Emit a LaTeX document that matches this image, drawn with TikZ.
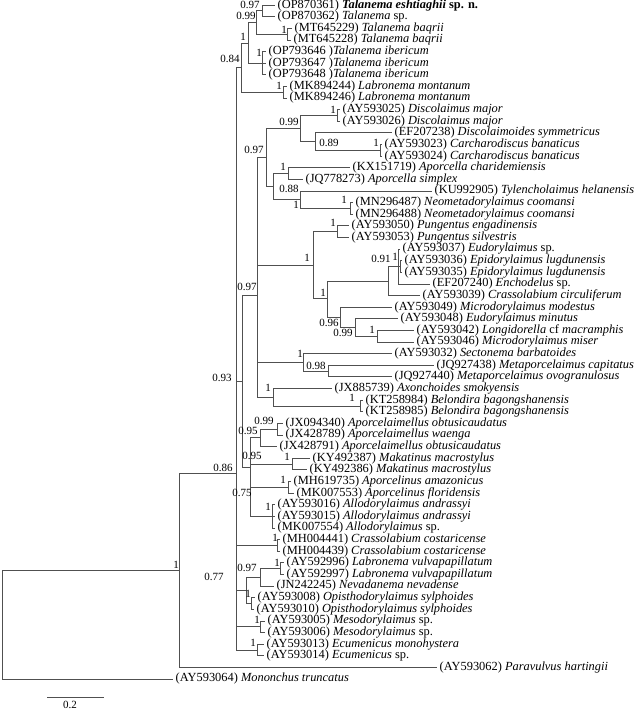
\documentclass[tikz,border=0pt]{standalone}
\usepackage{fontspec}
\setmainfont{Liberation Serif}
\definecolor{treegray}{RGB}{80,80,80}
\tikzset{
  branch/.style={draw=treegray, line width=0.75pt},
  leaf/.style={anchor=west, inner xsep=2.5pt, inner ysep=0pt, font=\fontsize{12.4}{13}\selectfont},
  pp/.style={inner sep=0pt, font=\fontsize{11}{12}\selectfont},
}
\begin{document}
\begin{tikzpicture}[x=1pt, y=-1pt]
  \useasboundingbox (0,0) rectangle (640,712);
  % internal nodes
  \coordinate (root) at (2,624.5);
  \coordinate (n179) at (179,570);
  \coordinate (n86) at (236,473);
  \coordinate (n84) at (241,67.6);
  \coordinate (ntal) at (248,43.1);
  \coordinate (n99a) at (256,22.4);
  \coordinate (n97a) at (262,10.8);
  \coordinate (nbaq) at (287,34.1);
  \coordinate (niber) at (262,63.1);
  \coordinate (nmont) at (283,92.2);
  \coordinate (n93) at (242,381);
  \coordinate (n97b) at (257,295.3);
  \coordinate (n97c) at (266,157.5);
  \coordinate (n99b) at (300,128.4);
  \coordinate (ndisc) at (337,115.4);
  \coordinate (n89) at (315,141.5);
  \coordinate (ncarch) at (380,150.3);
  \coordinate (n273) at (273,186.6);
  \coordinate (napor) at (288,173.5);
  \coordinate (n88) at (300,199.6);
  \coordinate (nneo) at (350,208.4);
  \coordinate (nbig) at (313,265);
  \coordinate (npung) at (337,231.6);
  \coordinate (ne) at (327,298.4);
  \coordinate (ng) at (388,281);
  \coordinate (nh) at (398,266.4);
  \coordinate (nepi) at (400,266.4);
  \coordinate (n96) at (340,317.3);
  \coordinate (n99c) at (355,327.4);
  \coordinate (nlong) at (377,336.2);
  \coordinate (nsect) at (303,362.3);
  \coordinate (nmeta) at (328,371);
  \coordinate (naxon) at (273,397.2);
  \coordinate (nbel) at (360,405.9);
  \coordinate (n95b) at (250,467);
  \coordinate (n95a) at (260,437.8);
  \coordinate (n99d) at (277,429.1);
  \coordinate (nmak) at (292,464);
  \coordinate (napc) at (288,487.2);
  \coordinate (nallo) at (272,516.3);
  \coordinate (ncc) at (277,545.3);
  \coordinate (nn1) at (246,590.3);
  \coordinate (n97d) at (260,577.2);
  \coordinate (nlabv) at (280,568.6);
  \coordinate (nopis) at (251,603.4);
  \coordinate (nmeso) at (260,626.7);
  \coordinate (necu) at (257,649.9);
  % leaves
  \node[leaf] (l1) at (275,5.6) {(OP870361) \textbf{\textit{Talanema eshtiaghii} sp. n.}};
  \node[leaf] (l2) at (275,16.6) {(OP870362) \textit{Talanema} sp.};
  \node[leaf] (l3) at (292,28.2) {(MT645229) \textit{Talanema baqrii}};
  \node[leaf] (l4) at (291,39.9) {(MT645228) \textit{Talanema baqrii}};
  \node[leaf] (l5) at (266,51.5) {(OP793646 )\textit{Talanema ibericum}};
  \node[leaf] (l6) at (266,63.1) {(OP793647 )\textit{Talanema ibericum}};
  \node[leaf] (l7) at (266,74.7) {(OP793648 )\textit{Talanema ibericum}};
  \node[leaf] (l8) at (287,86.3) {(MK894244) \textit{Labronema montanum}};
  \node[leaf] (l9) at (287,98.0) {(MK894246) \textit{Labronema montanum}};
  \node[leaf] (l10) at (340,109.6) {(AY593025) \textit{Discolaimus major}};
  \node[leaf] (l11) at (340,121.2) {(AY593026) \textit{Discolaimus major}};
  \node[leaf] (l12) at (392,132.8) {(EF207238) \textit{Discolaimoides symmetricus}};
  \node[leaf] (l13) at (382,144.4) {(AY593023) \textit{Carcharodiscus banaticus}};
  \node[leaf] (l14) at (382,156.1) {(AY593024) \textit{Carcharodiscus banaticus}};
  \node[leaf] (l15) at (350,167.7) {(KX151719) \textit{Aporcella charidemiensis}};
  \node[leaf] (l16) at (303,179.3) {(JQ778273) \textit{Aporcella simplex}};
  \node[leaf] (l17) at (432,190.9) {(KU992905) \textit{Tylencholaimus helanensis}};
  \node[leaf] (l18) at (353,202.5) {(MN296487) \textit{Neometadorylaimus coomansi}};
  \node[leaf] (l19) at (353,214.2) {(MN296488) \textit{Neometadorylaimus coomansi}};
  \node[leaf] (l20) at (349,225.8) {(AY593050) \textit{Pungentus engadinensis}};
  \node[leaf] (l21) at (349,237.4) {(AY593053) \textit{Pungentus silvestris}};
  \node[leaf] (l22) at (400,249.0) {(AY593037) \textit{Eudorylaimus} sp.};
  \node[leaf] (l23) at (402,260.6) {(AY593036) \textit{Epidorylaimus lugdunensis}};
  \node[leaf] (l24) at (402,272.2) {(AY593035) \textit{Epidorylaimus lugdunensis}};
  \node[leaf] (l25) at (430,283.9) {(EF207240) \textit{Enchodelus} sp.};
  \node[leaf] (l26) at (420,295.5) {(AY593039) \textit{Crassolabium circuliferum}};
  \node[leaf] (l27) at (392,307.1) {(AY593049) \textit{Microdorylaimus modestus}};
  \node[leaf] (l28) at (398,318.7) {(AY593048) \textit{Eudorylaimus minutus}};
  \node[leaf] (l29) at (414,330.4) {(AY593042) \textit{Longidorella} cf \textit{macramphis}};
  \node[leaf] (l30) at (414,342.0) {(AY593046) \textit{Microdorylaimus miser}};
  \node[leaf] (l31) at (392,353.6) {(AY593032) \textit{Sectonema barbatoides}};
  \node[leaf] (l32) at (434,365.2) {(JQ927438) \textit{Metaporcelaimus capitatus}};
  \node[leaf] (l33) at (392,376.8) {(JQ927440) \textit{Metaporcelaimus ovogranulosus}};
  \node[leaf] (l34) at (332,388.5) {(JX885739) \textit{Axonchoides smokyensis}};
  \node[leaf] (l35) at (363,400.1) {(KT258984) \textit{Belondira bagongshanensis}};
  \node[leaf] (l36) at (363,411.7) {(KT258985) \textit{Belondira bagongshanensis}};
  \node[leaf] (l37) at (283,423.3) {(JX094340) \textit{Aporcelaimellus obtusicaudatus}};
  \node[leaf] (l38) at (283,434.9) {(JX428789) \textit{Aporcelaimellus waenga}};
  \node[leaf] (l39) at (277,446.6) {(JX428791) \textit{Aporcelaimellus obtusicaudatus}};
  \node[leaf] (l40) at (310,458.2) {(KY492387) \textit{Makatinus macrostylus}};
  \node[leaf] (l41) at (307,469.8) {(KY492386) \textit{Makatinus macrostylus}};
  \node[leaf] (l42) at (291,481.4) {(MH619735) \textit{Aporcelinus amazonicus}};
  \node[leaf] (l43) at (294,493.0) {(MK007553) \textit{Aporcelinus floridensis}};
  \node[leaf] (l44) at (275,504.7) {(AY593016) \textit{Allodorylaimus andrassyi}};
  \node[leaf] (l45) at (275,516.3) {(AY593015) \textit{Allodorylaimus andrassyi}};
  \node[leaf] (l46) at (275,527.9) {(MK007554) \textit{Allodorylaimus} sp.};
  \node[leaf] (l47) at (280,539.5) {(MH004441) \textit{Crassolabium costaricense}};
  \node[leaf] (l48) at (280,551.1) {(MH004439) \textit{Crassolabium costaricense}};
  \node[leaf] (l49) at (284,562.8) {(AY592996) \textit{Labronema vulvapapillatum}};
  \node[leaf] (l50) at (284,574.4) {(AY592997) \textit{Labronema vulvapapillatum}};
  \node[leaf] (l51) at (274,586.0) {(JN242245) \textit{Nevadanema nevadense}};
  \node[leaf] (l52) at (255,597.6) {(AY593008) \textit{Opisthodorylaimus sylphoides}};
  \node[leaf] (l53) at (254,609.2) {(AY593010) \textit{Opisthodorylaimus sylphoides}};
  \node[leaf] (l54) at (265,620.9) {(AY593005) \textit{Mesodorylaimus} sp.};
  \node[leaf] (l55) at (265,632.5) {(AY593006) \textit{Mesodorylaimus} sp.};
  \node[leaf] (l56) at (264,644.1) {(AY593013) \textit{Ecumenicus monohystera}};
  \node[leaf] (l57) at (264,655.7) {(AY593014) \textit{Ecumenicus} sp.};
  \node[leaf] (l58) at (437,667.3) {(AY593062) \textit{Paravulvus hartingii}};
  \node[leaf] (l59) at (173,679.0) {(AY593064) \textit{Mononchus truncatus}};
  % branches
  \draw[branch] (root) |- (n179);
  \draw[branch] (root) |- (l59.west);
  \draw[branch] (n179) |- (n86);
  \draw[branch] (n179) |- (l58.west);
  \draw[branch] (n86) |- (n84);
  \draw[branch] (n86) |- (n93);
  \draw[branch] (n86) |- (ncc);
  \draw[branch] (n86) |- (nn1);
  \draw[branch] (n86) |- (nmeso);
  \draw[branch] (n86) |- (necu);
  \draw[branch] (n84) |- (ntal);
  \draw[branch] (n84) |- (nmont);
  \draw[branch] (ntal) |- (n99a);
  \draw[branch] (ntal) |- (niber);
  \draw[branch] (n99a) |- (n97a);
  \draw[branch] (n99a) |- (nbaq);
  \draw[branch] (n97a) |- (l1.west);
  \draw[branch] (n97a) |- (l2.west);
  \draw[branch] (nbaq) |- (l3.west);
  \draw[branch] (nbaq) |- (l4.west);
  \draw[branch] (niber) |- (l5.west);
  \draw[branch] (niber) |- (l6.west);
  \draw[branch] (niber) |- (l7.west);
  \draw[branch] (nmont) |- (l8.west);
  \draw[branch] (nmont) |- (l9.west);
  \draw[branch] (n93) |- (n97b);
  \draw[branch] (n93) |- (n95b);
  \draw[branch] (n97b) |- (n97c);
  \draw[branch] (n97b) |- (nbig);
  \draw[branch] (n97b) |- (nsect);
  \draw[branch] (n97b) |- (naxon);
  \draw[branch] (n97c) |- (n99b);
  \draw[branch] (n97c) |- (n273);
  \draw[branch] (n99b) |- (ndisc);
  \draw[branch] (n99b) |- (n89);
  \draw[branch] (ndisc) |- (l10.west);
  \draw[branch] (ndisc) |- (l11.west);
  \draw[branch] (n89) |- (l12.west);
  \draw[branch] (n89) |- (ncarch);
  \draw[branch] (ncarch) |- (l13.west);
  \draw[branch] (ncarch) |- (l14.west);
  \draw[branch] (n273) |- (napor);
  \draw[branch] (n273) |- (n88);
  \draw[branch] (napor) |- (l15.west);
  \draw[branch] (napor) |- (l16.west);
  \draw[branch] (n88) |- (l17.west);
  \draw[branch] (n88) |- (nneo);
  \draw[branch] (nneo) |- (l18.west);
  \draw[branch] (nneo) |- (l19.west);
  \draw[branch] (nbig) |- (npung);
  \draw[branch] (nbig) |- (ne);
  \draw[branch] (npung) |- (l20.west);
  \draw[branch] (npung) |- (l21.west);
  \draw[branch] (ne) |- (ng);
  \draw[branch] (ne) |- (n96);
  \draw[branch] (ng) |- (nh);
  \draw[branch] (ng) |- (l26.west);
  \draw[branch] (nh) |- (l22.west);
  \draw[branch] (nh) |- (nepi);
  \draw[branch] (nh) |- (l25.west);
  \draw[branch] (nepi) |- (l23.west);
  \draw[branch] (nepi) |- (l24.west);
  \draw[branch] (n96) |- (l27.west);
  \draw[branch] (n96) |- (n99c);
  \draw[branch] (n99c) |- (l28.west);
  \draw[branch] (n99c) |- (nlong);
  \draw[branch] (nlong) |- (l29.west);
  \draw[branch] (nlong) |- (l30.west);
  \draw[branch] (nsect) |- (l31.west);
  \draw[branch] (nsect) |- (nmeta);
  \draw[branch] (nmeta) |- (l32.west);
  \draw[branch] (nmeta) |- (l33.west);
  \draw[branch] (naxon) |- (l34.west);
  \draw[branch] (naxon) |- (nbel);
  \draw[branch] (nbel) |- (l35.west);
  \draw[branch] (nbel) |- (l36.west);
  \draw[branch] (n95b) |- (n95a);
  \draw[branch] (n95b) |- (nmak);
  \draw[branch] (n95b) |- (napc);
  \draw[branch] (n95b) |- (nallo);
  \draw[branch] (n95a) |- (n99d);
  \draw[branch] (n95a) |- (l39.west);
  \draw[branch] (n99d) |- (l37.west);
  \draw[branch] (n99d) |- (l38.west);
  \draw[branch] (nmak) |- (l40.west);
  \draw[branch] (nmak) |- (l41.west);
  \draw[branch] (napc) |- (l42.west);
  \draw[branch] (napc) |- (l43.west);
  \draw[branch] (nallo) |- (l44.west);
  \draw[branch] (nallo) |- (l45.west);
  \draw[branch] (nallo) |- (l46.west);
  \draw[branch] (ncc) |- (l47.west);
  \draw[branch] (ncc) |- (l48.west);
  \draw[branch] (nn1) |- (n97d);
  \draw[branch] (nn1) |- (nopis);
  \draw[branch] (n97d) |- (nlabv);
  \draw[branch] (n97d) |- (l51.west);
  \draw[branch] (nlabv) |- (l49.west);
  \draw[branch] (nlabv) |- (l50.west);
  \draw[branch] (nopis) |- (l52.west);
  \draw[branch] (nopis) |- (l53.west);
  \draw[branch] (nmeso) |- (l54.west);
  \draw[branch] (nmeso) |- (l55.west);
  \draw[branch] (necu) |- (l56.west);
  \draw[branch] (necu) |- (l57.west);
  % posterior probabilities
  \node[pp] (p1) at (250,5) {0.97};
  \node[pp] (p2) at (246,15.5) {0.99};
  \node[pp] (p3) at (243,37) {1};
  \node[pp] (p4) at (284,30) {1};
  \node[pp] (p5) at (259,53) {1};
  \node[pp] (p6) at (230,59) {0.84};
  \node[pp] (p7) at (279,86) {1};
  \node[pp] (p8) at (333,110) {1};
  \node[pp] (p9) at (289,122) {0.99};
  \node[pp] (p10) at (329,143) {0.89};
  \node[pp] (p11) at (376,143) {1};
  \node[pp] (p12) at (254,150) {0.97};
  \node[pp] (p13) at (283,167) {1};
  \node[pp] (p14) at (289,189) {0.88};
  \node[pp] (p15) at (344,200) {1};
  \node[pp] (p46) at (296,205) {1};
  \node[pp] (p16) at (333,223) {1};
  \node[pp] (p17) at (307,258) {1};
  \node[pp] (p18) at (381,259) {0.91};
  \node[pp] (p19) at (395,257) {1};
  \node[pp] (p20) at (247,287) {0.97};
  \node[pp] (p21) at (323,293) {1};
  \node[pp] (p22) at (329,323) {0.96};
  \node[pp] (p23) at (343,333) {0.99};
  \node[pp] (p24) at (372,330) {1};
  \node[pp] (p25) at (300,354) {1};
  \node[pp] (p26) at (316,366) {0.98};
  \node[pp] (p27) at (222,378) {0.93};
  \node[pp] (p28) at (268,388) {1};
  \node[pp] (p29) at (352,398) {1};
  \node[pp] (p30) at (264,421) {0.99};
  \node[pp] (p31) at (248,431) {0.95};
  \node[pp] (p32) at (252,456) {0.95};
  \node[pp] (p33) at (287,457) {1};
  \node[pp] (p34) at (223,468) {0.86};
  \node[pp] (p35) at (283,480) {1};
  \node[pp] (p36) at (242,493) {0.75};
  \node[pp] (p37) at (268,507) {1};
  \node[pp] (p38) at (275,538) {1};
  \node[pp] (p39) at (176,565) {1};
  \node[pp] (p40) at (247,568) {0.97};
  \node[pp] (p41) at (277,563) {1};
  \node[pp] (p42) at (214,577) {0.77};
  \node[pp] (p43) at (248,594) {1};
  \node[pp] (p44) at (257,620) {1};
  \node[pp] (p45) at (253,643) {1};
  % scale bar
  \coordinate (sb1) at (47,697);
  \coordinate (sb2) at (104,697);
  \draw[branch] (sb1) -- (sb2);
  \node[pp] (sblabel) at (70,705) {0.2};
\end{tikzpicture}
\end{document}
